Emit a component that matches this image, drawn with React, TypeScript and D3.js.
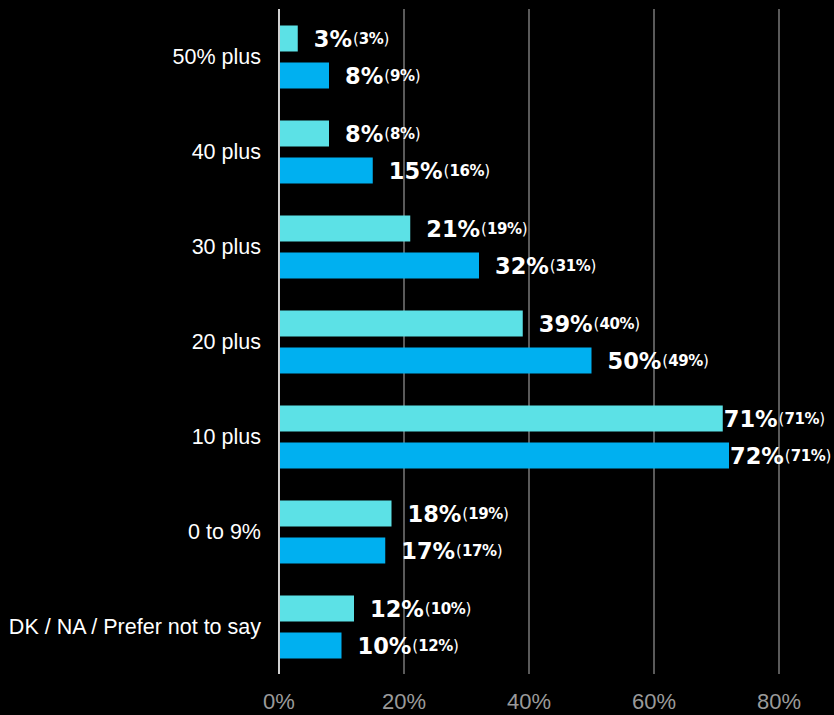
import React from "react";
import * as d3 from "d3";

const categories = ["50% plus", "40 plus", "30 plus", "20 plus", "10 plus", "0 to 9%", "DK / NA / Prefer not to say"];
const seriesA = [3, 8, 21, 39, 71, 18, 12];
const seriesAPrev = [3, 8, 19, 40, 71, 19, 10];
const seriesB = [8, 15, 32, 50, 72, 17, 10];
const seriesBPrev = [9, 16, 31, 49, 71, 17, 12];
const xTicks = [0, 20, 40, 60, 80];
const colors = ["#5ce1e6", "#00b0f0"];

const W = 834, H = 715;
const left = 279;

export default function App() {
  const x = d3.scaleLinear().domain([0, 80]).range([left, 779]);
  const y = d3.scaleBand().domain(categories).range([9.5, 674.5]);
  const barH = 26, gap = 11;
  const series = [
    { vals: seriesA, prev: seriesAPrev, color: colors[0], off: -(gap / 2 + barH) },
    { vals: seriesB, prev: seriesBPrev, color: colors[1], off: gap / 2 },
  ];
  return (
    <svg width={W} height={H} style={{ position: "absolute", left: 0, top: 0, background: "#000" }}>
      <rect x={0} y={0} width={W} height={H} fill="#000" />
      {xTicks.slice(1).map((t) => (
        <line key={t} x1={x(t)} x2={x(t)} y1={9} y2={674} stroke="#5a5a5a" strokeWidth={2} />
      ))}
      {categories.map((c, i) => {
        const cy = (y(c) as number) + y.bandwidth() / 2;
        return (
          <g key={c}>
            <text x={261} y={cy} textAnchor="end" dominantBaseline="central" fill="#fff"
              style={{ fontFamily: "Liberation Sans, Arial, sans-serif", fontSize: 21.5 }}>{c}</text>
            {series.map((s, k) => {
              const v = s.vals[i];
              const end = x(v);
              const lx = v >= 70 ? end + 1 : end + 16;
              const by = cy + s.off;
              return (
                <g key={k}>
                  <rect x={x(0)} y={by} width={end - x(0)} height={barH} fill={s.color} />
                  <text x={lx} y={by + barH / 2} dominantBaseline="central" fill="#fff"
                    style={{ fontFamily: "'DejaVu Sans', sans-serif" }}>
                    <tspan fontSize={22.5} fontWeight={700}>{v}%</tspan>
                    <tspan fontSize={15} fontWeight={400} dx={1}>(</tspan>
                    <tspan fontSize={15} fontWeight={700} letterSpacing={-0.4}>{s.prev[i]}%</tspan>
                    <tspan fontSize={15} fontWeight={400}>)</tspan>
                  </text>
                </g>
              );
            })}
          </g>
        );
      })}
      <line x1={x(0)} x2={x(0)} y1={9} y2={674} stroke="#d0d0d0" strokeWidth={2} />
      {xTicks.map((t) => (
        <text key={t} x={x(t)} y={701} textAnchor="middle" dominantBaseline="central" fill="#9a9a9a"
          style={{ fontFamily: "Liberation Sans, Arial, sans-serif", fontSize: 22 }}>{t}%</text>
      ))}
    </svg>
  );
}
